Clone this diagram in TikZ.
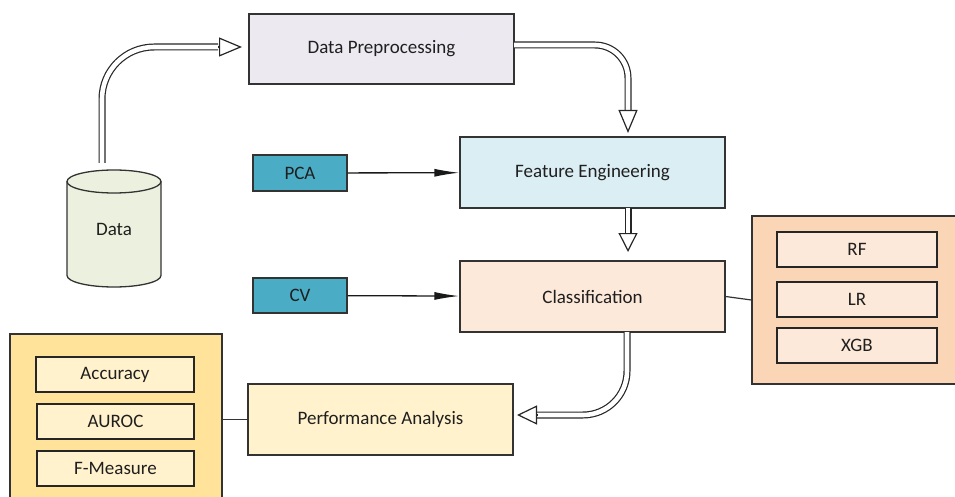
\documentclass[tikz,border=0pt]{standalone}
\usepackage{fontspec}
\setmainfont{Carlito}
\usetikzlibrary{arrows.meta}
\definecolor{dpfill}{HTML}{ECE9F1}
\definecolor{fefill}{HTML}{DBEEF4}
\definecolor{clfill}{HTML}{FDE9D9}
\definecolor{rpfill}{HTML}{FAD6B7}
\definecolor{aqua}{HTML}{4BACC6}
\definecolor{datafill}{HTML}{EBF1DE}
\definecolor{pafill}{HTML}{FFF2CC}
\definecolor{lpfill}{HTML}{FFE39A}
\definecolor{bordercol}{HTML}{333333}
\definecolor{txtcol}{HTML}{1F1F1F}
\tikzset{
  box/.style={draw=bordercol, line width=1.3pt, inner sep=0pt, text=txtcol,
    font=\fontsize{19}{22}\selectfont},
  bigbox/.style={box, minimum width=265pt, minimum height=71pt},
  subbox/.style={box, line width=1.5pt, draw=black!85, minimum width=159pt, minimum height=35pt},
  tagbox/.style={box, fill=aqua, minimum width=94pt, minimum height=36pt},
  panel/.style={draw=bordercol, line width=1.2pt, inner sep=0pt},
  hshaft/.style={line width=1.2pt, draw=black!85, double=white, double distance=4.6pt, rounded corners=#1},
  hhead/.style={line width=1.2pt, draw=black!85, -{Triangle[open, length=23pt, width=19pt]}},
  thinarrow/.style={line width=1.3pt, draw=black!90, -{Latex[length=25pt, width=8pt]}},
  plainline/.style={line width=1.2pt, draw=black!80},
}
\begin{document}
\begin{tikzpicture}[x=1pt, y=-1pt]
\useasboundingbox (0,0) rectangle (955,497);

% main boxes
\node[bigbox, fill=dpfill, minimum height=70pt] (dp) at (381.5,49) {Data Preprocessing};
\node[bigbox, fill=fefill] (fe) at (592.5,172.5) {Feature Engineering};
\node[bigbox, fill=clfill] (cl) at (592.5,296.5) {Classification};
\node[bigbox, fill=pafill] (pa) at (380.5,419.5) {Performance Analysis};

% tags
\node[tagbox] (pca) at (300,173) {PCA};
\node[tagbox, minimum height=35pt] (cv) at (300,295.5) {CV};

% right panel
\node[panel, fill=rpfill, minimum width=208pt, minimum height=168pt] (rp) at (856,300) {};
\node[subbox, fill=clfill, minimum width=160pt] (rf) at (857,249.5) {RF};
\node[subbox, fill=clfill, minimum width=160pt] (lr) at (857,299.5) {LR};
\node[subbox, fill=clfill, minimum width=160pt] (xgb) at (857,345.5) {XGB};

% left panel
\node[panel, fill=lpfill, minimum width=212pt, minimum height=171pt] (lp) at (116,419.5) {};
\node[subbox, fill=pafill, minimum width=158pt] (acc) at (115,374.5) {Accuracy};
\node[subbox, fill=pafill, minimum width=157pt] (auroc) at (115.5,421.5) {AUROC};
\node[subbox, fill=pafill, minimum width=157pt] (fm) at (115.5,468.5) {F-Measure};

% data cylinder
\fill[datafill] (67,181.5) -- (67,275.5) arc[start angle=180, end angle=360, x radius=47pt, y radius=11.5pt]
  -- (161,181.5) arc[start angle=0, end angle=180, x radius=47pt, y radius=11.5pt] -- cycle;
\draw[bordercol, line width=1.3pt] (67,181.5) -- (67,275.5) arc[start angle=180, end angle=360, x radius=47pt, y radius=11.5pt]
  -- (161,181.5);
\draw[bordercol, line width=1.3pt] (114,181.5) ellipse[x radius=47pt, y radius=11.5pt];
\node[text=txtcol, font=\fontsize{19}{22}\selectfont] (data) at (114,229) {Data};

% hollow arrows
\coordinate (a1s) at (102,163);
\coordinate (a1b) at (218,47);
\coordinate (a1t) at (242,47);
\draw[hshaft=52pt] (a1s) |- (a1b);
\draw[hhead] (a1b) -- (a1t);

\coordinate (a2s) at (514,45);
\coordinate (a2b) at (628,110);
\coordinate (a2t) at (628,133);
\draw[hshaft=33pt] (a2s) -| (a2b);
\draw[hhead] (a2b) -- (a2t);

\coordinate (a3s) at (628,208);
\coordinate (a3b) at (628,233);
\coordinate (a3t) at (628,252);
\draw[hshaft=1pt] (a3s) -- (a3b);
\draw[hhead, -{Triangle[open, length=19pt, width=19pt]}] (a3b) -- (a3t);

\coordinate (a4s) at (627,332);
\coordinate (a4b) at (537,415);
\coordinate (a4t) at (517,415);
\draw[hshaft=44pt] (a4s) |- (a4b);
\draw[hhead, -{Triangle[open, length=20pt, width=19pt]}] (a4b) -- (a4t);

% thin arrows and lines
\draw[thinarrow] (pca) -- (fe);
\draw[thinarrow] (cv) -- (cl);
\draw[plainline] (cl.east) -- (rp.west);
\draw[plainline] (lp.east) -- (pa.west);
\end{tikzpicture}
\end{document}
